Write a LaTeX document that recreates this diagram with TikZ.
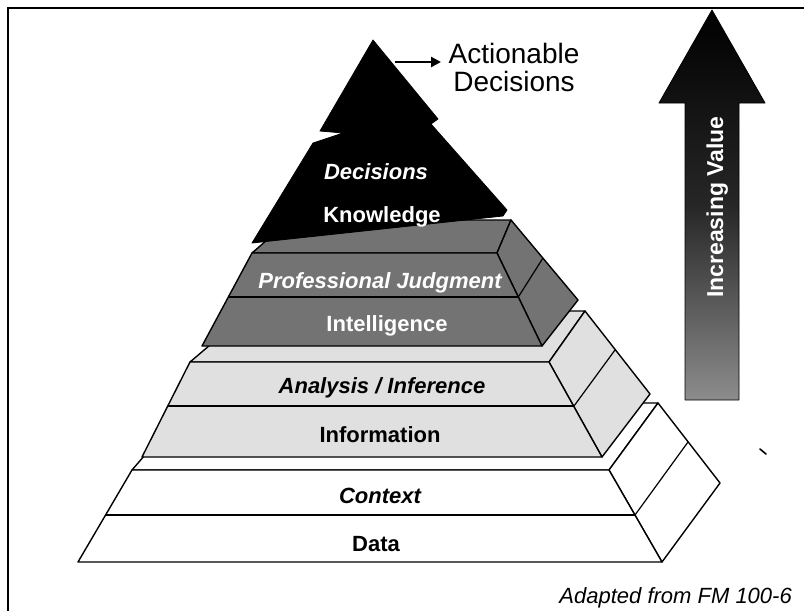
\documentclass[tikz,border=0pt]{standalone}
\usepackage{fontspec}
\setmainfont{Liberation Sans}
\usetikzlibrary{arrows.meta}
\definecolor{darkst}{gray}{0.45}
\definecolor{lightst}{gray}{0.88}
\begin{document}
\begin{tikzpicture}[x=1pt,y=-1pt,
  face/.style={draw=black, line width=1.4pt, line join=round},
  divline/.style={draw=black, line width=1.2pt},
  lbl/.style={font=\fontsize{22}{26}\selectfont\bfseries, inner sep=0pt, anchor=base},
  ilbl/.style={font=\fontsize{22}{26}\selectfont\bfseries\itshape, inner sep=0pt, anchor=base}]
\useasboundingbox (0,0) rectangle (804,611);
% frame
\draw[line width=2.2pt] (8,611) -- (8,8) -- (804,8);

% ---------- bottom tier (white) ----------
\path[face, fill=white] (132,470) -- (609,470) -- (658,403) -- (190,403) -- cycle;
\path[face, fill=white] (609,470) -- (658,403) -- (720,483) -- (662,562) -- cycle;
\draw[divline] (635,515) -- (688,442);
\path[face, fill=white] (78,562) -- (662,562) -- (609,470) -- (132,470) -- cycle;
\draw[divline] (105.6,515) -- (635,515);

% ---------- middle tier (light) ----------
\path[face, fill=lightst] (190,362) -- (549,362) -- (585,311) -- (250,311) -- cycle;
\path[face, fill=lightst] (549,362) -- (585,311) -- (650,394) -- (602,457) -- cycle;
\draw[divline] (574,406) -- (615,350);
\path[face, fill=lightst] (142,457) -- (602,457) -- (549,362) -- (190,362) -- cycle;
\draw[divline] (168,406) -- (574,406);

% ---------- upper tier (dark) ----------
\path[face, fill=darkst] (252,253) -- (497,253) -- (511,220) -- (290,220) -- cycle;
\path[face, fill=darkst] (497,253) -- (511,220) -- (578,300) -- (542,346) -- cycle;
\draw[divline] (518.3,297) -- (543,258);
\path[face, fill=darkst] (202,346) -- (542,346) -- (497,253) -- (252,253) -- cycle;
\draw[divline] (228.3,297) -- (518.3,297);

% ---------- top (black) ----------
\path[fill=black, draw=black, line width=0.8pt, line join=round]
  (373,40) -- (438,119) -- (431,124) -- (507,210) -- (503,216) -- (252,243)
  -- (313,143) -- (343,133) -- (320,131) -- cycle;

% ---------- tier labels ----------
\node[ilbl, text=white] (decis) at (376,179) {Decisions};
\node[lbl, text=white] (know) at (382,222) {Knowledge};
\node[ilbl, text=white] (profj) at (380,288) {Professional Judgment};
\node[lbl, text=white] (intel) at (387,331) {Intelligence};
\node[ilbl] (anal) at (382,393) {Analysis / Inference};
\node[lbl] (info) at (380,442) {Information};
\node[ilbl] (ctx) at (380,503) {Context};
\node[lbl] (data) at (376,551) {Data};

% ---------- actionable decisions ----------
\coordinate (actS) at (395,62);
\coordinate (actE) at (441,62);
\draw[line width=2.6pt, -{Triangle[length=10pt,width=10pt]}] (actS) -- (actE);
\node[font=\fontsize{28}{28}\selectfont, align=center, inner sep=0pt, anchor=base]
  (act) at (514,91) {Actionable\\Decisions};

% ---------- increasing value arrow ----------
\shade[top color=black, bottom color=black!45, middle color=black!85]
  (685,400) -- (685,103) -- (659,103) -- (712,10) -- (765,103) -- (739,103) -- (739,400) -- cycle;
\draw[line width=0.8pt, line join=round]
  (685,400) -- (685,103) -- (659,103) -- (712,10) -- (765,103) -- (739,103) -- (739,400) -- cycle;
\node[font=\fontsize{23}{23}\selectfont\bfseries, text=white, rotate=90, inner sep=0pt, anchor=base]
  (incv) at (723,207) {Increasing Value};

% stray mark
\draw[line width=1.6pt, line cap=round] (760,449) -- (766,454);

% ---------- source ----------
\node[font=\fontsize{22}{22}\selectfont\itshape, inner sep=0pt, anchor=base east]
  (src) at (792,603) {Adapted from FM 100-6};
\end{tikzpicture}
\end{document}
